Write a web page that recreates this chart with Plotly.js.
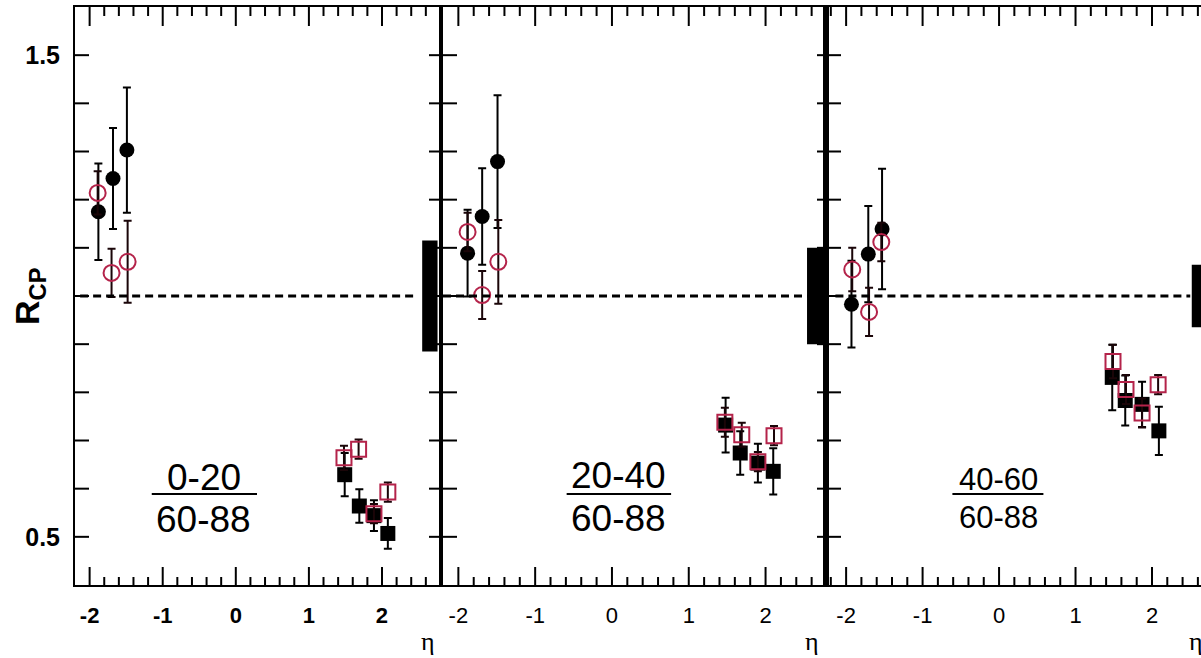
<!DOCTYPE html>
<html>
<head>
<meta charset="utf-8">
<script src="https://cdn.plot.ly/plotly-3.0.1.min.js"></script>
<style>
  html, body { margin: 0; padding: 0; overflow: hidden; background: #ffffff; }
  #chart { width: 1218px; height: 658px; }
</style>
</head>
<body>
<div id="chart"></div>
<script>
// Centrality ratio labels, one per panel
const panelNumerators = ['0-20', '20-40', '40-60'];
const panelDenominator = '60-88';

// Filled black circles (backward rapidity), one row per panel
const blackBackEta = [[-1.88, -1.68, -1.49], [-1.88, -1.69, -1.49], [-1.93, -1.71, -1.53]];
const blackBackVal = [[1.175, 1.244, 1.303], [1.089, 1.165, 1.279], [0.983, 1.087, 1.139]];
const blackBackErr = [[0.100, 0.105, 0.130], [0.090, 0.100, 0.138], [0.090, 0.100, 0.125]];

// Open red circles (backward rapidity)
const redBackEta = [[-1.89, -1.70, -1.48], [-1.88, -1.69, -1.48], [-1.92, -1.70, -1.54]];
const redBackVal = [[1.214, 1.048, 1.071], [1.133, 1.002, 1.071], [1.055, 0.967, 1.112]];
const redBackErr = [[0.045, 0.050, 0.085], [0.040, 0.050, 0.087], [0.045, 0.050, 0.040]];

// Filled black squares (forward rapidity)
const blackFwdEta = [[1.49, 1.69, 1.89, 2.08], [1.48, 1.67, 1.90, 2.10], [1.48, 1.65, 1.87, 2.09]];
const blackFwdVal = [[0.629, 0.564, 0.544, 0.507], [0.732, 0.674, 0.653, 0.636], [0.831, 0.783, 0.775, 0.720]];
const blackFwdErr = [[0.045, 0.035, 0.032, 0.032], [0.057, 0.045, 0.040, 0.048], [0.068, 0.052, 0.047, 0.050]];

// Open red squares (forward rapidity)
const redFwdEta = [[1.48, 1.68, 1.89, 2.08], [1.47, 1.69, 1.90, 2.11], [1.49, 1.66, 1.87, 2.08]];
const redFwdVal = [[0.664, 0.682, 0.548, 0.593], [0.738, 0.712, 0.656, 0.710], [0.864, 0.806, 0.757, 0.816]];
const redFwdErr = [[0.025, 0.020, 0.020, 0.020], [0.030, 0.025, 0.020, 0.020], [0.035, 0.030, 0.030, 0.020]];

// Global (normalisation) uncertainty drawn as a box at R = 1
const globalUnc = [0.115, 0.100, 0.065];

// Axis ticks and labels
const xLabelAlias = { '−2': '-2', '−1': '-1' };
const xMajorTicks = [-2, -1, 0, 1, 2];
const xMinorTicks = [-2.2, -1.8, -1.6, -1.4, -1.2, -0.8, -0.6, -0.4, -0.2, 0.2, 0.4, 0.6, 0.8,
                     1.2, 1.4, 1.6, 1.8, 2.2, 2.4, 2.6];
const yTicks = [0.5, 0.6, 0.7, 0.8, 0.9, 1.0, 1.1, 1.2, 1.3, 1.4, 1.5];
const yLabelVals = [0.5, 1.5];
const yLabelText = ['0.5', '1.5'];

// Layout geometry (pixels in a 1218 x 658 figure; the last panel runs past the window edge)
const W = 1218, H = 658;
const panelPx = [[75, 439], [443, 827], [827, 1217]];
const xRanges = [[-2.2, 2.78], [-2.2, 2.8], [-2.25, 2.85]];
const plotTop = 7, plotBottom = 585;
const yDomain = [(H - plotBottom) / H, (H - plotTop) / H];

const RED = '#b4234a';
const FONT = 'Liberation Sans, Arial, sans-serif';

const traces = [];
const layout = {
  width: W, height: H,
  margin: { l: 0, r: 0, t: 0, b: 0 },
  paper_bgcolor: '#ffffff',
  plot_bgcolor: 'rgba(0,0,0,0)',
  showlegend: false,
  shapes: [],
  annotations: []
};

function errBar(arr, color) {
  return { type: 'data', array: arr, visible: true, color: color, thickness: 2, width: 4 };
}

// tick mark on a horizontal frame edge (edge 0 = bottom, 1 = top), length in px pointing inward
function xTick(xa, ya, v, edge, len) {
  return {
    type: 'line', layer: 'above', xref: xa, yref: ya + ' domain',
    ysizemode: 'pixel', yanchor: edge, x0: v, x1: v, y0: 0, y1: edge === 0 ? len : -len,
    line: { color: '#000000', width: 2 }
  };
}
// tick mark on a vertical frame edge (edge 0 = left, 1 = right)
function yTick(xa, ya, v, edge, len) {
  return {
    type: 'line', layer: 'above', xref: xa + ' domain', yref: ya,
    xsizemode: 'pixel', xanchor: edge, x0: 0, x1: edge === 0 ? len : -len, y0: v, y1: v,
    line: { color: '#000000', width: 2 }
  };
}

for (let i = 0; i < 3; i++) {
  const sfx = i === 0 ? '' : String(i + 1);
  const xa = 'x' + sfx, ya = 'y' + sfx;

  traces.push({
    x: blackBackEta[i], y: blackBackVal[i], xaxis: xa, yaxis: ya,
    type: 'scatter', mode: 'markers',
    marker: { symbol: 'circle', size: 15, color: '#000000' },
    error_y: errBar(blackBackErr[i], '#000000')
  });
  traces.push({
    x: blackFwdEta[i], y: blackFwdVal[i], xaxis: xa, yaxis: ya,
    type: 'scatter', mode: 'markers',
    marker: { symbol: 'square', size: 15, color: '#000000' },
    error_y: errBar(blackFwdErr[i], '#000000')
  });
  traces.push({
    x: redBackEta[i], y: redBackVal[i], xaxis: xa, yaxis: ya,
    type: 'scatter', mode: 'markers',
    marker: { symbol: 'circle-open', size: 16, color: RED, line: { width: 2, color: RED } },
    error_y: errBar(redBackErr[i], '#1a0508')
  });
  traces.push({
    x: redFwdEta[i], y: redFwdVal[i], xaxis: xa, yaxis: ya,
    type: 'scatter', mode: 'markers',
    marker: { symbol: 'square-open', size: 15, color: RED, line: { width: 2, color: RED } },
    error_y: errBar(redFwdErr[i], '#1a0508')
  });

  const bold = i === 0;
  layout['xaxis' + sfx] = {
    domain: [panelPx[i][0] / W, panelPx[i][1] / W],
    range: xRanges[i], anchor: ya,
    showgrid: false, zeroline: false,
    showline: true, linecolor: '#000000', linewidth: 2, mirror: true,
    ticks: '', dtick: 1, tick0: 0, labelalias: xLabelAlias,
    ticklabelstandoff: 10,
    tickfont: { family: FONT, size: 22, color: '#000000', weight: bold ? 'bold' : 'normal' }
  };
  layout['yaxis' + sfx] = {
    domain: yDomain, range: [0.4, 1.6], anchor: xa,
    showgrid: false, zeroline: false,
    showline: true, linecolor: '#000000', linewidth: i === 2 ? 4 : 2, mirror: true,
    ticks: '', tickmode: 'array', tickvals: yLabelVals, ticktext: yLabelText,
    showticklabels: i === 0,
    ticklabelstandoff: 8,
    tickfont: { family: FONT, size: 25, color: '#000000', weight: 'bold' }
  };

  // frame tick marks, all pointing into the panel
  const lo = xRanges[i][0] + 0.03, hi = xRanges[i][1] - 0.03;
  xMajorTicks.filter(v => v > lo && v < hi).forEach(v => {
    layout.shapes.push(xTick(xa, ya, v, 0, 18));
    layout.shapes.push(xTick(xa, ya, v, 1, 19));
  });
  xMinorTicks.filter(v => v > lo && v < hi).forEach(v => {
    layout.shapes.push(xTick(xa, ya, v, 0, 8));
    layout.shapes.push(xTick(xa, ya, v, 1, 9));
  });
  yTicks.forEach(v => {
    layout.shapes.push(yTick(xa, ya, v, 0, 14));
    layout.shapes.push(yTick(xa, ya, v, 1, 10));
  });

  // R = 1 reference line
  const dashSpan = [[-2.13, 2.45], [-2.2, 2.56], [-2.14, 2.5]][i];
  layout.shapes.push({
    type: 'line', xref: xa, yref: ya, x0: dashSpan[0], x1: dashSpan[1], y0: 1, y1: 1,
    line: { color: '#000000', width: 3, dash: '8px,5px' }
  });
  // global uncertainty box
  const boxX = [[2.55, 2.76], [2.54, 2.76], [2.52, 2.74]][i];
  layout.shapes.push({
    type: 'rect', xref: xa, yref: ya, x0: boxX[0], x1: boxX[1],
    y0: 1 - globalUnc[i], y1: 1 + globalUnc[i],
    fillcolor: '#000000', line: { width: 0 }, layer: 'above'
  });

  // centrality ratio label, written as a fraction
  const cx = [-0.44, 0.08, -0.01][i];
  const fracBar = [[-1.15, 0.29], [-0.59, 0.77], [-0.61, 0.58]][i];
  const numY = [0.624, 0.627, 0.620][i];
  const denY = [0.535, 0.539, 0.541][i];
  const barY = 0.589;
  const fsize = [37, 37, 31][i];
  layout.shapes.push({
    type: 'line', xref: xa, yref: ya, x0: fracBar[0], x1: fracBar[1], y0: barY, y1: barY,
    line: { color: '#000000', width: 2 }
  });
  layout.annotations.push({
    xref: xa, yref: ya, x: cx, y: numY, text: panelNumerators[i], showarrow: false,
    font: { family: FONT, size: fsize, color: '#000000' }
  });
  layout.annotations.push({
    xref: xa, yref: ya, x: cx, y: denY, text: panelDenominator, showarrow: false,
    font: { family: FONT, size: fsize, color: '#000000' }
  });

  // η axis label at the lower right of each panel
  const etaPx = [428, 812, 1196][i];
  layout.annotations.push({
    xref: 'paper', yref: 'paper', x: etaPx / W, y: (H - 641) / H,
    text: 'η', showarrow: false, xanchor: 'center', yanchor: 'middle',
    font: { family: 'Liberation Serif, DejaVu Serif, serif', size: 26, color: '#000000' }
  });
}

// y-axis title
layout.annotations.push({
  xref: 'paper', yref: 'paper', x: 30 / W, y: (H - 296) / H,
  text: 'R<sub>CP</sub>', showarrow: false, textangle: -90,
  xanchor: 'center', yanchor: 'middle',
  font: { family: FONT, size: 34, color: '#000000', weight: 'bold' }
});

Plotly.newPlot('chart', traces, layout, { staticPlot: true, displayModeBar: false });
</script>
</body>
</html>
